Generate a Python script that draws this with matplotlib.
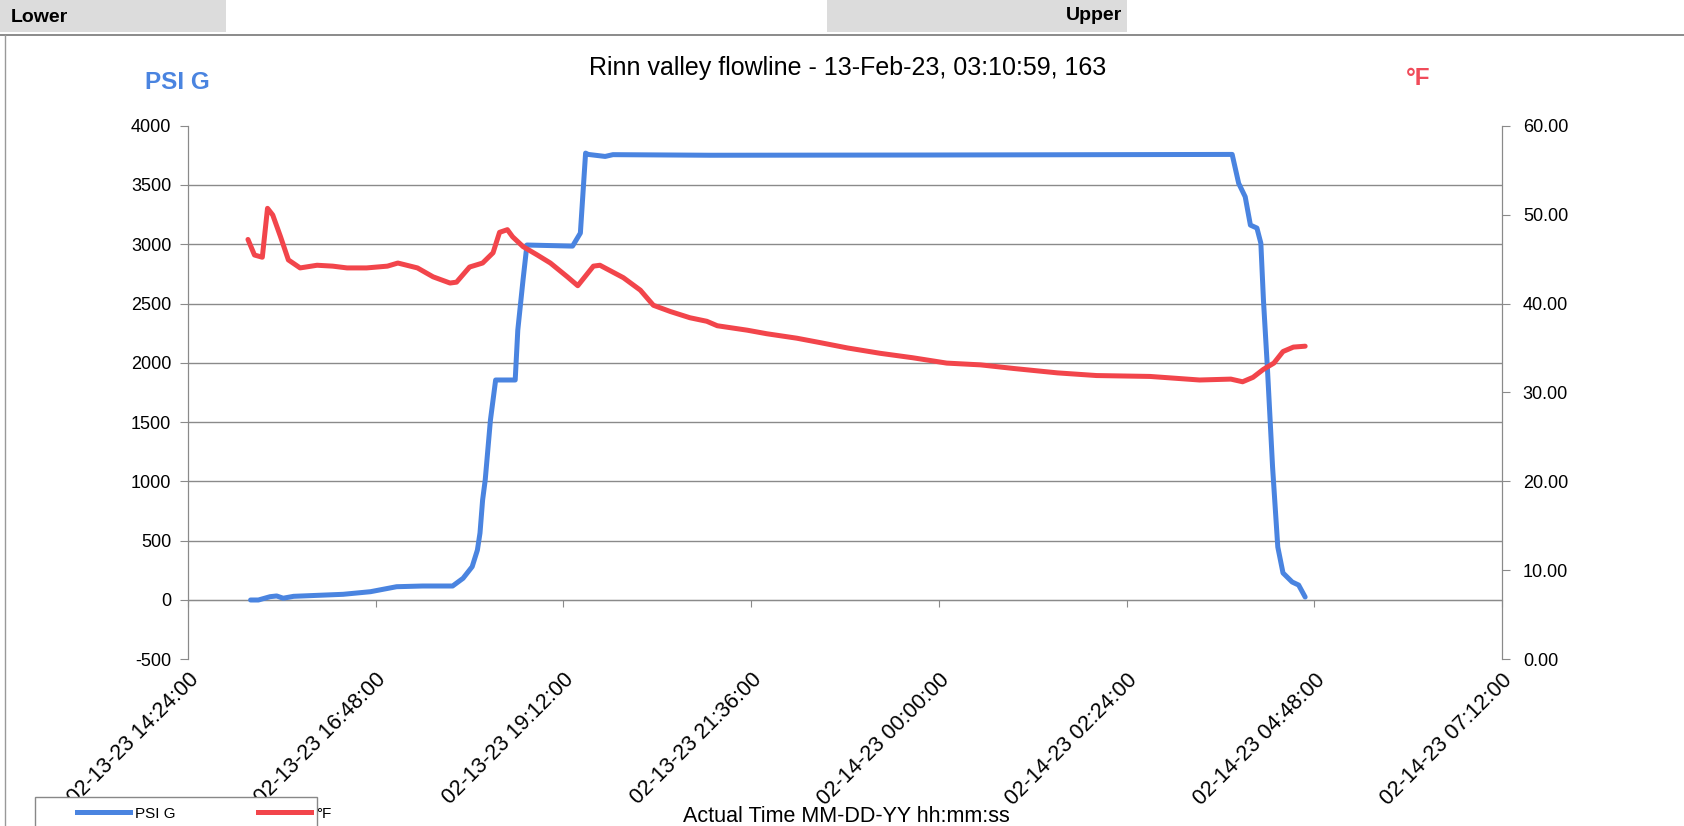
import matplotlib.pyplot as plt
import matplotlib.dates as mdates
import matplotlib.patches as mpatches
from matplotlib.lines import Line2D
import pandas as pd

plt.rcParams['font.family'] = ['Liberation Sans', 'DejaVu Sans']
plt.rcParams['axes.unicode_minus'] = False

# pressure series (PSI G)
psi_times = [
    "02-13-23 15:12", "02-13-23 15:18", "02-13-23 15:27", "02-13-23 15:32", "02-13-23 15:37",
    "02-13-23 15:45", "02-13-23 16:05", "02-13-23 16:23", "02-13-23 16:44", "02-13-23 17:04",
    "02-13-23 17:24", "02-13-23 17:47", "02-13-23 17:55", "02-13-23 18:02", "02-13-23 18:06",
    "02-13-23 18:08", "02-13-23 18:10", "02-13-23 18:12", "02-13-23 18:16", "02-13-23 18:20",
    "02-13-23 18:35", "02-13-23 18:37", "02-13-23 18:41", "02-13-23 18:44", "02-13-23 19:19",
    "02-13-23 19:25", "02-13-23 19:29", "02-13-23 19:31", "02-13-23 19:44", "02-13-23 19:50",
    "02-13-23 21:05", "02-13-23 23:53", "02-14-23 03:45", "02-14-23 03:50", "02-14-23 03:55",
    "02-14-23 03:59", "02-14-23 04:04", "02-14-23 04:07", "02-14-23 04:09", "02-14-23 04:12",
    "02-14-23 04:16", "02-14-23 04:20", "02-14-23 04:24", "02-14-23 04:31", "02-14-23 04:36",
    "02-14-23 04:41",
]
psi_values = [
    0, 0, 28, 34, 15,
    31, 40, 48, 70, 112,
    118, 118, 183, 281, 421,
    565, 843, 1012, 1517, 1855,
    1855, 2276, 2698, 2993, 2984,
    3094, 3768, 3757, 3740, 3755,
    3750, 3752, 3757, 3513, 3400,
    3161, 3136, 3009, 2529, 1964,
    1121, 447, 228, 152, 126,
    25,
]

# temperature series (°F)
temp_times = [
    "02-13-23 15:10", "02-13-23 15:15", "02-13-23 15:21", "02-13-23 15:25", "02-13-23 15:29",
    "02-13-23 15:35", "02-13-23 15:41", "02-13-23 15:50", "02-13-23 16:03", "02-13-23 16:15",
    "02-13-23 16:26", "02-13-23 16:41", "02-13-23 16:57", "02-13-23 17:05", "02-13-23 17:20",
    "02-13-23 17:32", "02-13-23 17:45", "02-13-23 17:50", "02-13-23 18:00", "02-13-23 18:10",
    "02-13-23 18:18", "02-13-23 18:23", "02-13-23 18:29", "02-13-23 18:33", "02-13-23 18:41",
    "02-13-23 18:52", "02-13-23 19:02", "02-13-23 19:15", "02-13-23 19:23", "02-13-23 19:35",
    "02-13-23 19:40", "02-13-23 19:58", "02-13-23 20:11", "02-13-23 20:21", "02-13-23 20:34",
    "02-13-23 20:49", "02-13-23 21:02", "02-13-23 21:10", "02-13-23 21:33", "02-13-23 21:48",
    "02-13-23 22:11", "02-13-23 22:29", "02-13-23 22:50", "02-13-23 23:15", "02-13-23 23:40",
    "02-14-23 00:06", "02-14-23 00:32", "02-14-23 00:57", "02-14-23 01:31", "02-14-23 02:01",
    "02-14-23 02:42", "02-14-23 03:20", "02-14-23 03:44", "02-14-23 03:53", "02-14-23 04:01",
    "02-14-23 04:09", "02-14-23 04:17", "02-14-23 04:24", "02-14-23 04:32", "02-14-23 04:41",
]
temp_values = [
    47.2, 45.45, 45.2, 50.7, 49.95,
    47.5, 44.9, 44.0, 44.3, 44.2,
    44.0, 44.0, 44.2, 44.55, 44.0,
    43.0, 42.3, 42.4, 44.1, 44.55,
    45.7, 48.0, 48.3, 47.5, 46.4,
    45.45, 44.55, 43.0, 42.0, 44.2,
    44.3, 42.9, 41.5, 39.8, 39.1,
    38.4, 38.0, 37.5, 37.0, 36.6,
    36.1, 35.6, 35.0, 34.4, 33.9,
    33.3, 33.1, 32.7, 32.2, 31.9,
    31.8, 31.4, 31.5, 31.2, 31.7,
    32.6, 33.3, 34.6, 35.1, 35.2,
]

x_start = "02-13-23 14:24"
x_end = "02-14-23 07:12"

fmt = "%m-%d-%y %H:%M"
psi_t = pd.to_datetime(psi_times, format=fmt)
temp_t = pd.to_datetime(temp_times, format=fmt)
x_ticks = pd.date_range(pd.to_datetime(x_start, format=fmt), pd.to_datetime(x_end, format=fmt), freq="144min")

blue = '#4a84e0'
red = '#f2454b'
grid_col = '#8a8a8a'

W, H = 1684, 826
fig = plt.figure(figsize=(W / 100, H / 100), dpi=100)

# spreadsheet cells above the chart
fig.patches.append(mpatches.Rectangle((0, 1 - 32 / H), 226 / W, 32 / H, transform=fig.transFigure,
                                      facecolor='#dcdcdc', edgecolor='none'))
fig.patches.append(mpatches.Rectangle((827 / W, 1 - 32 / H), 300 / W, 32 / H, transform=fig.transFigure,
                                      facecolor='#dcdcdc', edgecolor='none'))
fig.text(11 / W, 1 - 18 / H, "Lower", fontsize=14, fontweight='bold', va='center', ha='left')
fig.text(1122 / W, 1 - 15 / H, "Upper", fontsize=14, fontweight='bold', va='center', ha='right')
fig.add_artist(Line2D([0, 1], [1 - 35 / H, 1 - 35 / H], transform=fig.transFigure, color='#777777', lw=1.2))
fig.add_artist(Line2D([5 / W, 5 / W], [0, 1 - 35 / H], transform=fig.transFigure, color='#999999', lw=1))

ax = fig.add_axes([188 / W, 1 - 659.3 / H, (1502 - 188) / W, (659.3 - 125.6) / H])
ax2 = ax.twinx()

ax.plot(psi_t, psi_values, color=blue, lw=3.6, solid_capstyle='round', solid_joinstyle='round', zorder=3)
ax2.plot(temp_t, temp_values, color=red, lw=3.6, solid_capstyle='round', solid_joinstyle='round', zorder=3)

ax.set_ylim(-500, 4000)
ax.set_yticks(range(-500, 4001, 500))
ax2.set_ylim(0, 60)
ax2.set_yticks(range(0, 61, 10))
ax2.yaxis.set_major_formatter(plt.FormatStrFormatter('%.2f'))

ax.set_xlim(x_ticks[0], x_ticks[-1])
ax.xaxis.set_major_locator(plt.FixedLocator(mdates.date2num(x_ticks)))
ax.xaxis.set_major_formatter(mdates.DateFormatter('%m-%d-%y %H:%M:%S'))

ax.yaxis.grid(True, color=grid_col, lw=1.0)
for gl in (ax.yaxis.get_gridlines()[0], ax.yaxis.get_gridlines()[-1]):
    gl.set_visible(False)
ax.set_axisbelow(True)

for a in (ax, ax2):
    a.spines['top'].set_visible(False)
    a.spines['bottom'].set_visible(False)
    a.spines['left'].set_color(grid_col)
    a.spines['right'].set_color(grid_col)
# category axis crosses at 0
ax.spines['bottom'].set_visible(True)
ax.spines['bottom'].set_position(('data', 0))
ax.spines['bottom'].set_color(grid_col)

ax.tick_params(axis='y', direction='out', length=6, color=grid_col, labelsize=13, pad=6)
ax2.tick_params(axis='y', direction='out', length=6, color=grid_col, labelsize=13, pad=9)
ax.tick_params(axis='x', direction='out', length=5, color=grid_col, labelsize=15.5, pad=45)
for lbl in ax.get_xticklabels():
    lbl.set_rotation(45)
    lbl.set_ha('right')
    lbl.set_va('top')
    lbl.set_rotation_mode('anchor')

fig.text(848 / W, 1 - 68 / H, "Rinn valley flowline - 13-Feb-23, 03:10:59, 163", fontsize=18,
         ha='center', va='center')
fig.text(165 / 0.931 / W, 1 - 77 / 0.931 / H, "PSI G", fontsize=17.5, fontweight='bold', color=blue,
         ha='center', va='center')
fig.text(1320 / 0.931 / W, 1 - 73 / 0.931 / H, "°F", fontsize=17.5, fontweight='bold', color='#f04b5a',
         ha='center', va='center')
fig.text(788 / 0.931 / W, 1 - 760 / 0.931 / H, "Actual Time MM-DD-YY hh:mm:ss", fontsize=15.5,
         ha='center', va='center', zorder=5)

# legend box, cut off by the bottom of the page
fig.patches.append(mpatches.Rectangle((35 / W, -0.05), 282 / W, 0.05 + 1 - 797 / H, transform=fig.transFigure,
                                      facecolor='white', edgecolor='#888888', lw=1))
handles = [Line2D([], [], color=blue, lw=3.6), Line2D([], [], color=red, lw=3.6)]
leg = fig.legend(handles, ["PSI G", "°F"], loc='upper left', bbox_to_anchor=(72 / W, 1 - 802 / H),
                 ncol=2, fontsize=11, handlelength=3.5, columnspacing=5.4, handletextpad=0.3,
                 frameon=False, borderpad=0.3, borderaxespad=0)

fig.savefig('out.png', dpi=100)
